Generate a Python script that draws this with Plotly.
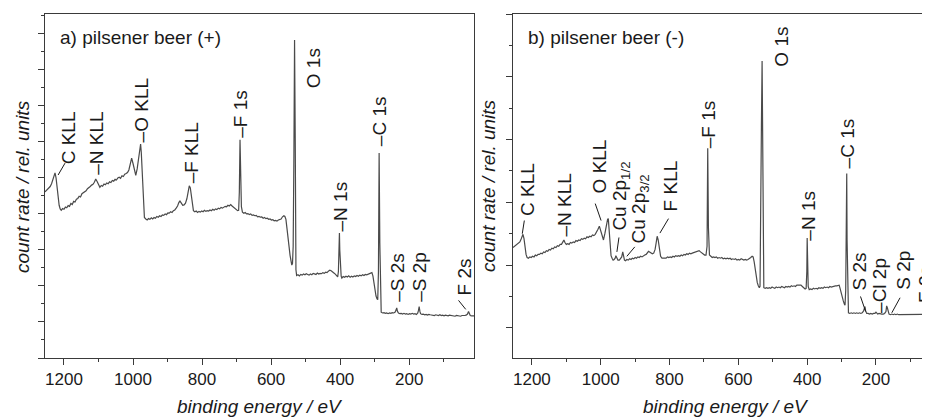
import plotly.graph_objects as go

# ---------------- data (binding energy / eV, count rate / rel. units) ----------------
spectrum_a = [
    (1255, 4.61), (1250, 4.66), (1245, 4.70), (1240, 4.76), (1236, 4.84), (1232, 4.95), (1229, 5.05),
    (1226, 5.14), (1223, 5.00), (1220, 4.70), (1217, 4.42), (1214, 4.24), (1211, 4.14), (1208, 4.10),
    (1204, 4.15), (1200, 4.13), (1196, 4.19), (1192, 4.17), (1188, 4.23), (1184, 4.21), (1180, 4.29),
    (1176, 4.26), (1172, 4.35), (1168, 4.33), (1164, 4.41), (1160, 4.43), (1156, 4.49), (1152, 4.47),
    (1148, 4.56), (1144, 4.58), (1140, 4.62), (1136, 4.64), (1132, 4.70), (1128, 4.72), (1124, 4.76),
    (1120, 4.80), (1116, 4.82), (1112, 4.88), (1108, 4.97), (1104, 4.90), (1100, 4.80), (1096, 4.74),
    (1092, 4.79), (1088, 4.77), (1084, 4.83), (1080, 4.81), (1076, 4.86), (1072, 4.84), (1068, 4.89),
    (1064, 4.87), (1060, 4.93), (1056, 4.91), (1052, 4.96), (1048, 4.94), (1044, 5.00), (1040, 5.02),
    (1036, 4.99), (1032, 5.06), (1028, 5.04), (1024, 5.10), (1020, 5.12), (1016, 5.15), (1012, 5.22),
    (1008, 5.35), (1004, 5.55), (1000, 5.40), (996, 5.20), (992, 5.07), (988, 5.25), (984, 5.60),
    (980, 5.90), (978, 5.94), (976, 5.70), (973, 5.00), (970, 4.20), (967, 3.90), (963, 3.86),
    (959, 3.83), (955, 3.87), (951, 3.85), (947, 3.89), (943, 3.86), (939, 3.90), (935, 3.88),
    (931, 3.93), (927, 3.91), (923, 3.95), (919, 3.93), (915, 3.97), (911, 3.96), (907, 4.00),
    (903, 3.98), (899, 4.03), (895, 4.02), (891, 4.06), (887, 4.04), (883, 4.09), (879, 4.11),
    (875, 4.16), (871, 4.22), (867, 4.32), (864, 4.36), (860, 4.30), (856, 4.24), (852, 4.25),
    (848, 4.30), (844, 4.42), (840, 4.62), (837, 4.78), (834, 4.72), (831, 4.45), (828, 4.20),
    (825, 4.09), (821, 4.06), (817, 4.08), (813, 4.04), (809, 4.07), (805, 4.05), (801, 4.08),
    (797, 4.06), (793, 4.10), (789, 4.07), (785, 4.09), (781, 4.08), (777, 4.11), (773, 4.09),
    (769, 4.13), (765, 4.10), (761, 4.14), (757, 4.12), (753, 4.16), (749, 4.14), (745, 4.18),
    (741, 4.16), (737, 4.19), (733, 4.21), (729, 4.20), (725, 4.24), (721, 4.22), (717, 4.26),
    (713, 4.22), (709, 4.19), (705, 4.15), (701, 4.12), (697, 4.09), (694, 4.10), (692, 4.60),
    (690, 6.06), (688, 5.00), (686, 4.20), (683, 4.05), (679, 4.02), (675, 4.04), (671, 4.00),
    (667, 4.01), (663, 3.98), (659, 4.00), (655, 3.96), (651, 3.97), (647, 3.95), (643, 3.96),
    (639, 3.92), (635, 3.93), (631, 3.91), (627, 3.92), (623, 3.88), (619, 3.90), (615, 3.87),
    (611, 3.88), (607, 3.85), (603, 3.86), (599, 3.83), (595, 3.84), (591, 3.81), (587, 3.82),
    (583, 3.80), (579, 3.83), (575, 3.84), (571, 3.86), (567, 3.92), (563, 3.95), (560, 3.93),
    (557, 3.85), (554, 3.60), (551, 3.30), (548, 3.05), (545, 2.85), (542, 2.68), (540, 2.58),
    (538, 2.62), (536, 3.10), (534, 5.50), (532, 8.83), (530, 6.00), (529, 3.50), (528, 2.45),
    (526, 2.29), (522, 2.31), (518, 2.28), (514, 2.32), (510, 2.30), (506, 2.33), (502, 2.31),
    (498, 2.34), (494, 2.32), (490, 2.30), (486, 2.33), (482, 2.31), (478, 2.35), (474, 2.33),
    (470, 2.32), (466, 2.36), (462, 2.33), (458, 2.35), (454, 2.34), (450, 2.37), (446, 2.35),
    (442, 2.38), (438, 2.37), (434, 2.41), (430, 2.44), (426, 2.42), (422, 2.40), (418, 2.36),
    (414, 2.33), (410, 2.27), (407, 2.25), (405, 2.40), (403, 2.90), (402, 3.47), (401, 3.00),
    (399, 2.50), (397, 2.27), (395, 2.22), (391, 2.26), (387, 2.24), (383, 2.27), (379, 2.25),
    (375, 2.28), (371, 2.24), (367, 2.27), (363, 2.25), (359, 2.28), (355, 2.26), (351, 2.29),
    (347, 2.27), (343, 2.30), (339, 2.28), (335, 2.31), (331, 2.29), (327, 2.32), (323, 2.31),
    (319, 2.33), (315, 2.34), (311, 2.36), (308, 2.37), (305, 2.28), (302, 2.08), (299, 1.88),
    (296, 1.72), (293, 1.64), (291, 1.62), (289, 2.40), (287, 5.69), (285, 3.20), (283, 1.60),
    (281, 1.27), (277, 1.25), (273, 1.26), (269, 1.24), (265, 1.25), (261, 1.23), (257, 1.25),
    (253, 1.24), (249, 1.26), (245, 1.25), (241, 1.27), (238, 1.33), (236, 1.39), (234, 1.30),
    (231, 1.25), (227, 1.23), (223, 1.24), (219, 1.22), (215, 1.24), (211, 1.22), (207, 1.23),
    (203, 1.21), (199, 1.23), (195, 1.22), (191, 1.24), (187, 1.22), (183, 1.23), (179, 1.21),
    (175, 1.25), (173, 1.32), (171, 1.43), (169, 1.30), (167, 1.23), (163, 1.21), (159, 1.22),
    (155, 1.20), (151, 1.21), (147, 1.19), (143, 1.21), (139, 1.20), (135, 1.19), (131, 1.20),
    (127, 1.18), (123, 1.20), (119, 1.19), (115, 1.18), (111, 1.20), (107, 1.18), (103, 1.19),
    (99, 1.17), (95, 1.19), (91, 1.18), (87, 1.17), (83, 1.19), (79, 1.18), (75, 1.17), (71, 1.18),
    (67, 1.16), (63, 1.18), (59, 1.17), (55, 1.18), (51, 1.16), (47, 1.18), (43, 1.17), (39, 1.18),
    (35, 1.19), (31, 1.22), (28, 1.29), (26, 1.22), (23, 1.18), (19, 1.17), (15, 1.16), (12, 1.17),
]

spectrum_b = [
    (1255, 1.28), (1251, 1.30), (1247, 1.31), (1243, 1.33), (1239, 1.35), (1235, 1.37), (1231, 1.42),
    (1228, 1.47), (1226, 1.49), (1223, 1.42), (1220, 1.28), (1217, 1.17), (1214, 1.12), (1210, 1.11),
    (1206, 1.13), (1202, 1.12), (1198, 1.14), (1194, 1.13), (1190, 1.16), (1186, 1.15), (1182, 1.17),
    (1178, 1.17), (1174, 1.19), (1170, 1.18), (1166, 1.21), (1162, 1.20), (1158, 1.23), (1154, 1.22),
    (1150, 1.25), (1146, 1.24), (1142, 1.27), (1138, 1.26), (1134, 1.29), (1130, 1.28), (1126, 1.31),
    (1122, 1.30), (1118, 1.33), (1114, 1.33), (1110, 1.37), (1107, 1.40), (1104, 1.36), (1100, 1.33),
    (1096, 1.34), (1092, 1.33), (1088, 1.36), (1084, 1.35), (1080, 1.37), (1076, 1.36), (1072, 1.39),
    (1068, 1.38), (1064, 1.40), (1060, 1.39), (1056, 1.42), (1052, 1.41), (1048, 1.43), (1044, 1.42),
    (1040, 1.45), (1036, 1.44), (1032, 1.46), (1028, 1.45), (1024, 1.48), (1020, 1.47), (1016, 1.49),
    (1012, 1.52), (1008, 1.57), (1004, 1.62), (1000, 1.55), (996, 1.45), (992, 1.40), (988, 1.50),
    (984, 1.65), (980, 1.73), (978, 1.74), (976, 1.55), (973, 1.30), (970, 1.15), (967, 1.11),
    (964, 1.08), (961, 1.09), (958, 1.11), (956, 1.15), (953, 1.10), (950, 1.08), (946, 1.08),
    (942, 1.10), (939, 1.13), (936, 1.21), (934, 1.15), (931, 1.08), (928, 1.07), (924, 1.09),
    (920, 1.08), (916, 1.10), (912, 1.09), (908, 1.11), (904, 1.10), (900, 1.12), (896, 1.11),
    (892, 1.13), (888, 1.12), (884, 1.14), (880, 1.13), (876, 1.15), (872, 1.16), (868, 1.17),
    (864, 1.20), (861, 1.22), (858, 1.21), (854, 1.19), (850, 1.18), (846, 1.19), (842, 1.25),
    (839, 1.35), (836, 1.46), (833, 1.40), (830, 1.25), (826, 1.14), (822, 1.11), (818, 1.11),
    (814, 1.12), (810, 1.11), (806, 1.13), (802, 1.12), (798, 1.13), (794, 1.12), (790, 1.14),
    (786, 1.13), (782, 1.15), (778, 1.14), (774, 1.15), (770, 1.14), (766, 1.16), (762, 1.15),
    (758, 1.17), (754, 1.16), (750, 1.18), (746, 1.17), (742, 1.19), (738, 1.18), (734, 1.19),
    (730, 1.20), (726, 1.21), (722, 1.22), (718, 1.23), (714, 1.23), (710, 1.21), (706, 1.19),
    (702, 1.17), (698, 1.16), (694, 1.16), (691, 1.30), (689, 2.86), (687, 1.60), (684, 1.16),
    (680, 1.13), (676, 1.12), (672, 1.13), (668, 1.12), (664, 1.13), (660, 1.11), (656, 1.12),
    (652, 1.11), (648, 1.12), (644, 1.10), (640, 1.11), (636, 1.10), (632, 1.11), (628, 1.10),
    (624, 1.11), (620, 1.09), (616, 1.10), (612, 1.09), (608, 1.10), (604, 1.08), (600, 1.09),
    (596, 1.08), (592, 1.10), (588, 1.09), (584, 1.08), (580, 1.09), (576, 1.08), (572, 1.09),
    (568, 1.10), (564, 1.12), (560, 1.14), (557, 1.13), (554, 1.05), (551, 0.92), (548, 0.80),
    (545, 0.72), (542, 0.67), (539, 0.64), (537, 0.66), (535, 1.50), (533, 3.20), (531, 4.25),
    (529, 2.50), (528, 0.80), (526, 0.64), (522, 0.63), (518, 0.64), (514, 0.63), (510, 0.64),
    (506, 0.63), (502, 0.65), (498, 0.64), (494, 0.63), (490, 0.65), (486, 0.64), (482, 0.65),
    (478, 0.64), (474, 0.66), (470, 0.65), (466, 0.64), (462, 0.66), (458, 0.65), (454, 0.66),
    (450, 0.65), (446, 0.67), (442, 0.66), (438, 0.67), (434, 0.66), (430, 0.68), (426, 0.68),
    (422, 0.69), (418, 0.68), (414, 0.66), (410, 0.64), (406, 0.62), (403, 0.63), (401, 0.90),
    (400, 1.43), (399, 1.00), (397, 0.66), (394, 0.61), (390, 0.62), (386, 0.61), (382, 0.63),
    (378, 0.62), (374, 0.63), (370, 0.62), (366, 0.64), (362, 0.63), (358, 0.64), (354, 0.63),
    (350, 0.65), (346, 0.64), (342, 0.65), (338, 0.64), (334, 0.66), (330, 0.65), (326, 0.66),
    (322, 0.66), (318, 0.67), (314, 0.67), (310, 0.68), (307, 0.68), (304, 0.62), (301, 0.54),
    (298, 0.47), (295, 0.43), (292, 0.38), (290, 0.36), (288, 0.60), (286, 1.80), (285, 2.46),
    (284, 1.40), (282, 0.40), (280, 0.24), (276, 0.23), (272, 0.24), (268, 0.23), (264, 0.24),
    (260, 0.23), (256, 0.24), (252, 0.23), (248, 0.24), (244, 0.23), (240, 0.24), (236, 0.27),
    (234, 0.32), (232, 0.34), (230, 0.27), (227, 0.23), (223, 0.23), (219, 0.22), (215, 0.23),
    (211, 0.22), (207, 0.23), (203, 0.23), (200, 0.25), (198, 0.24), (195, 0.22), (191, 0.23),
    (187, 0.22), (183, 0.22), (179, 0.22), (175, 0.23), (171, 0.26), (169, 0.35), (167, 0.32),
    (165, 0.25), (162, 0.22), (158, 0.21), (154, 0.22), (150, 0.21), (146, 0.22), (142, 0.21),
    (138, 0.22), (134, 0.21), (130, 0.21), (126, 0.22), (122, 0.21), (118, 0.21), (114, 0.22),
    (110, 0.21), (106, 0.21), (102, 0.22), (98, 0.21), (94, 0.21), (90, 0.22), (86, 0.21),
    (82, 0.21), (78, 0.22), (74, 0.21), (70, 0.21), (66, 0.22), (62, 0.21), (58, 0.21), (54, 0.22),
    (50, 0.21), (46, 0.21), (42, 0.22), (38, 0.21), (30, 0.22), (28, 0.26), (26, 0.22), (20, 0.21),
    (12, 0.21),
]

# peak labels: (text, energy at label centre, count rate at label bottom)
labels_a = [
    ("C KLL", 1188, 5.31), ("–N KLL", 1106, 5.03), ("–O KLL", 975, 5.92), ("–F KLL", 832, 4.78),
    ("–F 1s", 687, 6.06), ("O 1s", 478, 7.44), ("–N 1s", 399, 3.47), ("–C 1s", 287, 5.83),
    ("–S 2s", 236, 1.51), ("–S 2p", 171, 1.51), ("F 2s", 41, 1.67),
]
labels_b = [
    ("C KLL", 1213, 1.75), ("–N KLL", 1104, 1.43), ("O KLL", 1005, 2.11),
    ("Cu 2p<sub>1/2</sub>", 941, 1.51), ("Cu 2p<sub>3/2</sub>", 886, 1.32), ("F KLL", 796, 1.83),
    ("–F 1s", 688, 2.83), ("O 1s", 473, 4.13), ("–N 1s", 396, 1.35), ("–C 1s", 284, 2.51),
    ("S 2s", 247, 0.56), ("–Cl 2p", 188, 0.20), ("S 2p", 121, 0.57), ("F 2s", 58, 0.37),
]
# slanted leader lines: ((E0, y0), (E1, y1))
leaders_a = [((1217, 5.08), (1197, 5.41)), ((57, 1.60), (36, 1.35))]
leaders_b = [
    ((1228, 1.50), (1222, 1.71)), ((1016, 1.98), (999, 1.71)), ((947, 1.44), (953, 1.21)),
    ((901, 1.29), (924, 1.14)), ((803, 1.74), (828, 1.51)), ((245, 0.50), (230, 0.26)),
    ((130, 0.48), (154, 0.24)), ((64, 0.33), (48, 0.20)),
]

panel_titles = ["a) pilsener beer (+)", "b) pilsener beer (-)"]
x_title = "binding energy / eV"
y_title = "count rate / rel. units"
x_ticks = [1200, 1000, 800, 600, 400, 200]

# ---------------- figure ----------------
FONT = "Liberation Sans, Arial, sans-serif"
TXT = "#1a1a1a"
AX = "#3a3a3a"
LINE = "#4a4a4a"

fig = go.Figure()
for spec, xa, ya in [(spectrum_a, "x", "y"), (spectrum_b, "x2", "y2")]:
    fig.add_trace(go.Scatter(
        x=[p[0] for p in spec], y=[p[1] for p in spec], mode="lines",
        line=dict(color=LINE, width=1.2), xaxis=xa, yaxis=ya, showlegend=False,
        hoverinfo="skip"))

dom_a = [0.0, 0.4848]
dom_b = [0.5288, 1.0]

xcommon = dict(
    showline=True, linecolor=AX, linewidth=1, ticks="outside", ticklen=6, tickwidth=1,
    tickcolor=AX, tickvals=x_ticks, showgrid=False, zeroline=False,
    tickfont=dict(family=FONT, size=17, color=TXT),
    minor=dict(dtick=100, ticks="outside", ticklen=3, tickcolor=AX, showgrid=False),
)
ycommon = dict(
    showline=True, linecolor=AX, linewidth=1, ticks="outside", ticklen=6, tickwidth=1,
    tickcolor=AX, dtick=1, tick0=0, showticklabels=False, showgrid=False, zeroline=False,
    minor=dict(dtick=0.5, ticks="outside", ticklen=3, tickcolor=AX, showgrid=False),
)

# the page body adds an 8 px offset, so the figure is 8 px smaller than the window
fig.update_layout(
    width=922, height=410,
    margin=dict(l=37, r=0, t=6, b=60),
    paper_bgcolor="white", plot_bgcolor="white",
    xaxis=dict(xcommon, domain=dom_a, range=[1255, 12], anchor="y", mirror=True),
    yaxis=dict(ycommon, domain=[0, 1], range=[0, 9.55], anchor="x", mirror=True),
    xaxis2=dict(xcommon, domain=dom_b, range=[1255, 43], anchor="y2", mirror=True),
    yaxis2=dict(ycommon, domain=[0, 1], range=[-0.48, 5.0], anchor="x2", mirror=False),
    font=dict(family=FONT, color=TXT),
)

ann = []
for labels, xr, yr in [(labels_a, "x", "y"), (labels_b, "x2", "y2")]:
    for text, e, v in labels:
        ann.append(dict(text=text, x=e, y=v, xref=xr, yref=yr, textangle=-90,
                        xanchor="center", yanchor="bottom", showarrow=False,
                        font=dict(family=FONT, size=19, color=TXT)))

for title, dom in zip(panel_titles, [dom_a, dom_b]):
    ann.append(dict(text=title, x=dom[0] + 0.0147, y=0.933, xref="paper", yref="paper",
                    xanchor="left", yanchor="middle", showarrow=False,
                    font=dict(family=FONT, size=19, color=TXT)))
for xc in [0.2425, 0.7695]:
    ann.append(dict(text=f"<i>{x_title}</i>", x=xc, y=-0.142, xref="paper", yref="paper",
                    xanchor="center", yanchor="middle", showarrow=False,
                    font=dict(family=FONT, size=19, color=TXT)))
for xc in [-0.026, 0.5006]:
    ann.append(dict(text=f"<i>{y_title}</i>", x=xc, y=0.5, xref="paper", yref="paper",
                    xanchor="center", yanchor="middle", showarrow=False, textangle=-90,
                    font=dict(family=FONT, size=19, color=TXT)))
fig.update_layout(annotations=ann)

shapes = []
for leaders, xr, yr in [(leaders_a, "x", "y"), (leaders_b, "x2", "y2")]:
    for (e0, v0), (e1, v1) in leaders:
        shapes.append(dict(type="line", x0=e0, y0=v0, x1=e1, y1=v1, xref=xr, yref=yr,
                           line=dict(color=TXT, width=1)))
fig.update_layout(shapes=shapes)

fig.write_html("out.html")
